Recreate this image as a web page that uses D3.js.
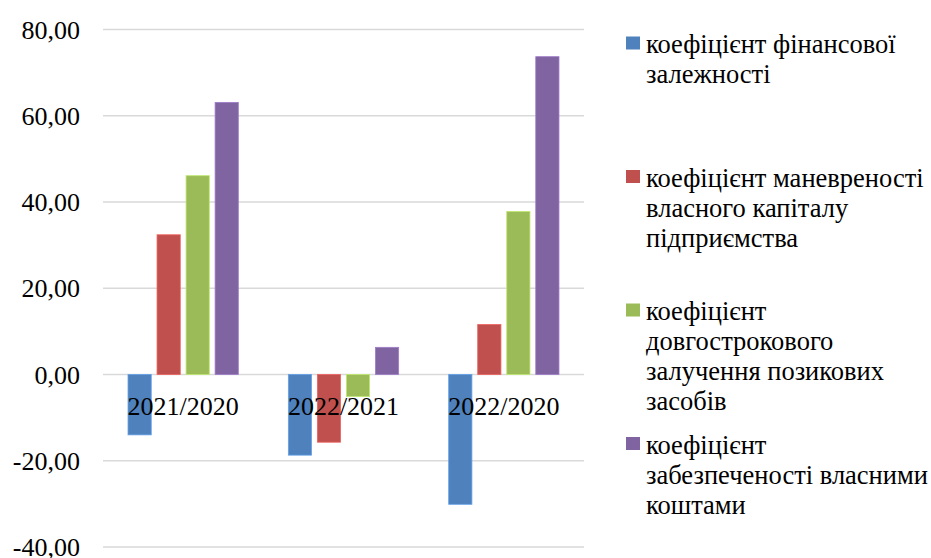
<!DOCTYPE html>
<html><head><meta charset="utf-8">
<script src="https://cdn.jsdelivr.net/npm/d3@7"></script>
<style>html,body{margin:0;padding:0;background:#fff;}</style>
</head><body>
<svg id="c" width="931" height="558"></svg>
<script>
const categories = ["2021/2020", "2022/2021", "2022/2020"];
const seriesNames = [
  "коефіцієнт фінансової залежності",
  "коефіцієнт маневреності власного капіталу підприємства",
  "коефіцієнт довгострокового залучення позикових засобів",
  "коефіцієнт забезпеченості власними коштами"
];
const legendLines = [
  ["коефіцієнт фінансової", "залежності"],
  ["коефіцієнт маневреності", "власного капіталу", "підприємства"],
  ["коефіцієнт", "довгострокового", "залучення позикових", "засобів"],
  ["коефіцієнт", "забезпеченості власними", "коштами"]
];
const finDependence = [-14.0, -18.7, -30.1];
const maneuverability = [32.4, -15.7, 11.6];
const longTermBorrowing = [46.1, -5.1, 37.8];
const ownFundsSecurity = [63.1, 6.3, 73.7];
const seriesValues = [finDependence, maneuverability, longTermBorrowing, ownFundsSecurity];
const colors = ["#4F81BD", "#C0504D", "#9BBB59", "#8064A2"];
const yTicks = [-40, -20, 0, 20, 40, 60, 80];

const svg = d3.select("#c");
const pLeft = 103, pRight = 584, pTop = 29.5, pBottom = 547;
const FONT = '"Liberation Serif", "Times New Roman", serif';

const y = d3.scaleLinear().domain([-40, 80]).range([pBottom, pTop]);
const x0 = d3.scaleBand().domain(categories).range([pLeft, pRight]).paddingInner(0.312).paddingOuter(0.156);
const x1 = d3.scaleBand().domain(d3.range(seriesNames.length)).range([0, x0.bandwidth()]).paddingInner(0.2).paddingOuter(0);

// gridlines
svg.append("g").selectAll("line").data(yTicks).join("line")
  .attr("x1", pLeft).attr("x2", pRight)
  .attr("y1", d => y(d)).attr("y2", d => y(d))
  .attr("stroke", "#d9d9d9").attr("stroke-width", 1.5);

// y axis labels
const fmt = v => d3.format(".2f")(v).replace(".", ",").replace("−", "-");
const yAxis = d3.axisLeft(y).tickValues(yTicks).tickFormat(fmt).tickSize(0).tickPadding(23);
const ya = svg.append("g").attr("transform", `translate(${pLeft},0)`).call(yAxis);
ya.attr("font-family", null);
ya.select(".domain").remove();
ya.selectAll("text").style("font-family", FONT).style("font-size", "26px").attr("fill", "#000").attr("dy", "0.33em");

// bars
const groups = svg.append("g").selectAll("g").data(categories).join("g")
  .attr("transform", d => `translate(${x0(d)},0)`);
groups.selectAll("rect").data((c, ci) => seriesValues.map((s, si) => ({si, v: s[ci]})))
  .join("rect")
  .attr("x", d => x1(d.si))
  .attr("width", x1.bandwidth())
  .attr("y", d => y(Math.max(0, d.v)))
  .attr("height", d => Math.abs(y(d.v) - y(0)))
  .attr("fill", d => colors[d.si])
  .attr("stroke", d => d3.color(colors[d.si]).brighter(0.6))
  .attr("stroke-width", 0.8);

// category labels
const xAxis = d3.axisBottom(x0).tickSize(0).tickPadding(0);
const xa = svg.append("g").attr("transform", `translate(0,${y(0)})`).call(xAxis);
xa.attr("font-family", null);
xa.select(".domain").remove();
xa.selectAll("text").style("font-family", FONT).style("font-size", "26px").attr("fill", "#000")
  .attr("y", 40).attr("dy", 0);

// legend
const legendY = [44.5, 178, 311.5, 445];
const lg = svg.append("g").selectAll("g").data(seriesNames).join("g")
  .attr("transform", (d, i) => `translate(626,${legendY[i]})`);
lg.append("rect").attr("x", 0).attr("y", -8).attr("width", 14).attr("height", 13)
  .attr("fill", (d, i) => colors[i]);
lg.append("text").style("font-family", FONT).style("font-size", "26.5px").attr("fill", "#000")
  .selectAll("tspan").data((d, i) => legendLines[i]).join("tspan")
  .attr("x", 20).attr("y", (d, j) => j * 30 + 8.5).text(d => d);
</script>
</body></html>
